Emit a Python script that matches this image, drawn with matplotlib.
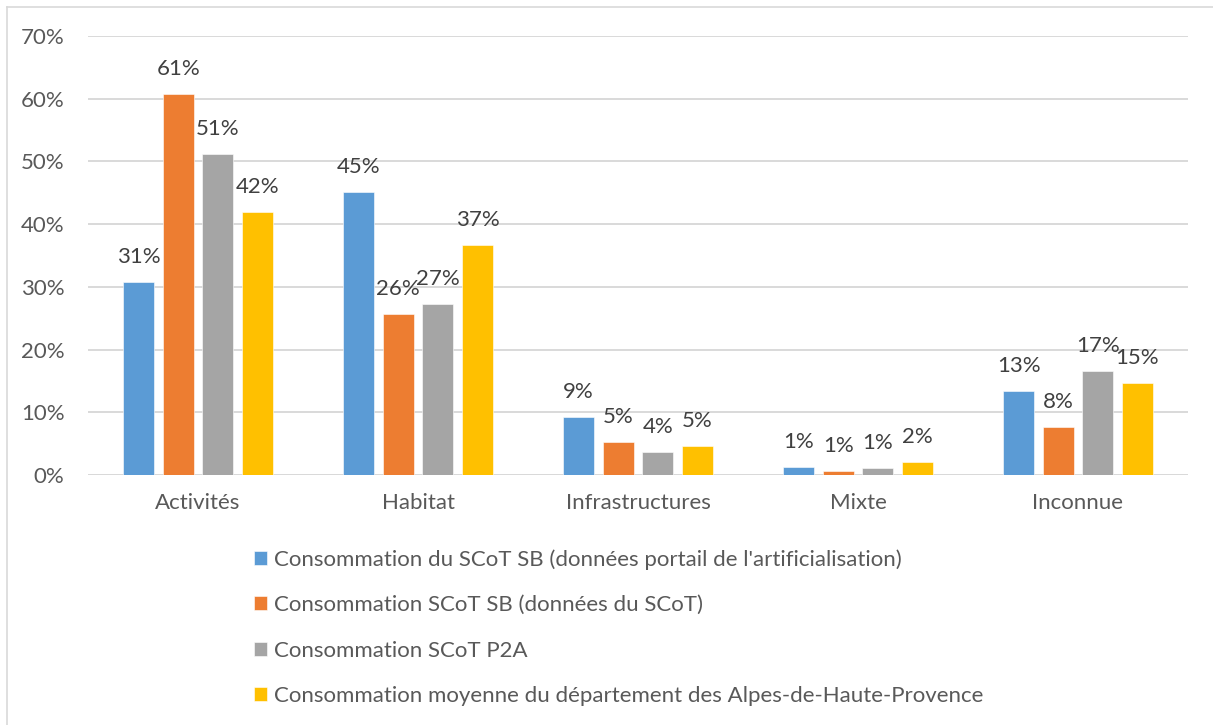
import matplotlib.pyplot as plt
import numpy as np
from matplotlib.lines import Line2D

plt.rcParams['font.family'] = ['Lato', 'DejaVu Sans']

# Categories and series (percent of land consumption)
categories = ['Activités', 'Habitat', 'Infrastructures', 'Mixte', 'Inconnue']
series_names = [
    "Consommation du SCoT SB (données portail de l'artificialisation)",
    "Consommation SCoT SB (données du SCoT)",
    "Consommation SCoT P2A",
    "Consommation moyenne du département des Alpes-de-Haute-Provence",
]
portail_sb = [30.7, 45.2, 9.2, 1.3, 13.4]
scot_sb = [60.7, 25.6, 5.2, 0.7, 7.6]
scot_p2a = [51.2, 27.2, 3.7, 1.1, 16.6]
dept_04 = [41.9, 36.6, 4.6, 2.0, 14.7]
yticks = [0, 10, 20, 30, 40, 50, 60, 70]

colors = ['#5B9BD5', '#ED7D31', '#A5A5A5', '#FFC000']
grid_col = '#D9D9D9'
axis_txt = '#595959'
label_txt = '#404040'
fs = 16

W, H = 1213, 725
fig = plt.figure(figsize=(W / 100, H / 100), dpi=100)
ax = fig.add_axes([88 / W, 1 - 475 / H, 1100 / W, 439 / H])

x = np.arange(len(categories))
step, width = 0.18, 0.14
all_series = [portail_sb, scot_sb, scot_p2a, dept_04]
bars = []
for i, vals in enumerate(all_series):
    off = (i - 1.5) * step
    b = ax.bar(x + off, vals, width, color=colors[i], label=series_names[i],
               zorder=3, edgecolor='white', linewidth=0.4)
    bars.append(b)
    for xi, v in zip(x + off, vals):
        ax.annotate(f"{v:.0f}%", (xi, v), xytext=(0, 18), textcoords='offset points',
                    ha='center', va='center', fontsize=fs, color=label_txt)

ax.set_xlim(-0.5, len(categories) - 0.5)
ax.set_ylim(0, 70)
ax.set_yticks(yticks)
ax.set_yticklabels([f"{t}%" for t in yticks])
ax.set_xticks(x)
ax.set_xticklabels(categories)
ax.tick_params(axis='y', length=0, pad=17, labelsize=fs, labelcolor=axis_txt)
ax.tick_params(axis='x', length=0, pad=13, labelsize=fs, labelcolor=axis_txt)
ax.yaxis.grid(True, color=grid_col, linewidth=1.4, zorder=0)
ax.set_axisbelow(True)
for s in ax.spines.values():
    s.set_visible(False)
ax.axhline(0, color=grid_col, linewidth=1.4, zorder=2)

leg = fig.legend(handles=bars, labels=series_names, loc='upper left',
                 bbox_to_anchor=(254 / W, 1 - 549 / H), frameon=False,
                 fontsize=fs, labelcolor=axis_txt, handlelength=0.6,
                 handleheight=0.6, handletextpad=0.28, labelspacing=1.15,
                 borderpad=0, borderaxespad=0)

# chart frame (left and top edges visible)
fig.add_artist(Line2D([7 / W, 7 / W], [0, 1 - 7 / H], color=grid_col, lw=1.2))
fig.add_artist(Line2D([7 / W, 1], [1 - 7 / H, 1 - 7 / H], color=grid_col, lw=1.2))

fig.savefig('out.png', dpi=100)
